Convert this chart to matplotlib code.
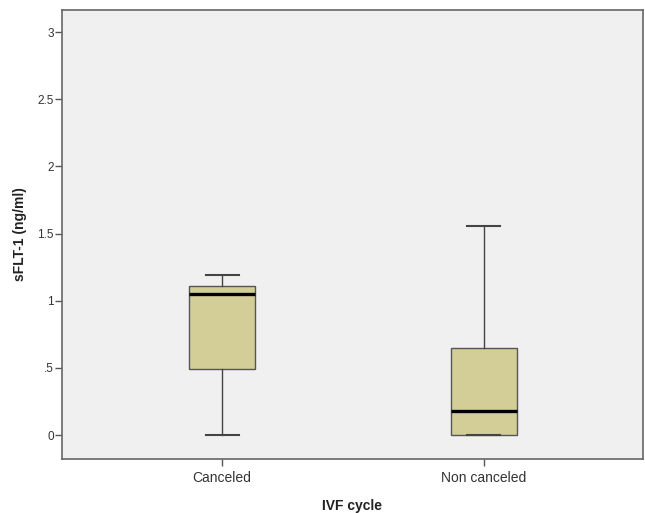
import matplotlib

matplotlib.use("Agg")
import matplotlib.pyplot as plt

# five-number summaries (ng/ml)
GROUPS = ["Canceled", "Non canceled"]
WHISK_LO = [0.0, 0.0]
Q1 = [0.49, 0.0]
MEDIAN = [1.05, 0.18]
Q3 = [1.11, 0.65]
WHISK_HI = [1.19, 1.555]

Y_TICKS = [0, 0.5, 1, 1.5, 2, 2.5, 3]
Y_TICK_LABELS = ["0", ".5", "1", "1.5", "2", "2.5", "3"]

plt.rcParams["font.family"] = ["Liberation Sans", "DejaVu Sans"]

fig = plt.figure(figsize=(6.45, 5.13), dpi=100)
fig.patch.set_facecolor("white")
ax = fig.add_axes([0.0961, 0.1053, 0.9008, 0.8752])
ax.set_facecolor("#f0f0f0")

stats = [
    dict(label=g, whislo=lo, q1=a, med=m, q3=b, whishi=hi, fliers=[])
    for g, lo, a, m, b, hi in zip(GROUPS, WHISK_LO, Q1, MEDIAN, Q3, WHISK_HI)
]
ax.bxp(
    stats,
    positions=[1, 2],
    widths=0.252,
    patch_artist=True,
    showfliers=False,
    boxprops=dict(facecolor="#d3ce97", edgecolor="#555555", linewidth=1.0),
    medianprops=dict(color="black", linewidth=2.4),
    whiskerprops=dict(color="#444444", linewidth=1.0),
    capprops=dict(color="#444444", linewidth=1.5),
    capwidths=0.126,
)

ax.set_xlim(0.389, 2.607)
ax.set_ylim(-0.178, 3.164)
ax.set_yticks(Y_TICKS)
ax.set_yticklabels(Y_TICK_LABELS)
ax.set_xticks([1, 2])
ax.set_xticklabels(GROUPS)

ax.tick_params(axis="y", length=5, width=1, color="#555555", labelsize=8.5, labelcolor="#333333", pad=1)
ax.tick_params(axis="x", length=5, width=1, color="#555555", labelsize=10, labelcolor="#333333", pad=4)
for s in ax.spines.values():
    s.set_color("#666666")
    s.set_linewidth(1.2)

ax.set_ylabel("sFLT-1 (ng/ml)", fontsize=10, fontweight="bold", color="#222222", labelpad=7)
ax.set_xlabel("IVF cycle", fontsize=10, fontweight="bold", color="#222222", labelpad=10)

fig.savefig("out.png", dpi=100)
